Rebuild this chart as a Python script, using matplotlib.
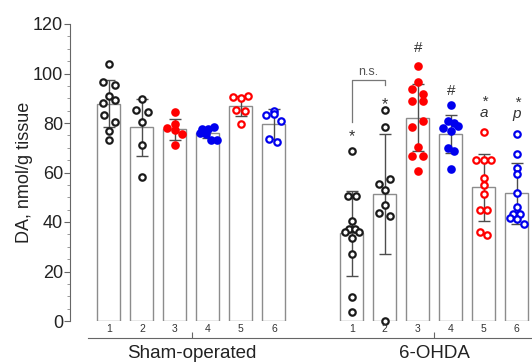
import matplotlib
matplotlib.use('Agg')
import matplotlib.pyplot as plt
import numpy as np

plt.rcParams['font.family'] = ['Liberation Sans', 'DejaVu Sans']

# bar labels inside each group
bar_labels = ['1', '2', '3', '4', '5', '6']
groups = ['Sham-operated', '6-OHDA']

# mean and SD for each bar
sham_mean = [87.7, 78.3, 77.4, 75.8, 86.9, 79.5]
sham_sd = [9.5, 11.5, 4.4, 1.8, 4.0, 6.0]
ohda_mean = [35.4, 51.3, 82.2, 75.6, 54.0, 51.6]
ohda_sd = [17.3, 24.1, 13.5, 7.8, 13.4, 12.3]

# individual animals
sham_points = [
    [103.8, 96.4, 95.4, 91.0, 89.3, 88.2, 83.2, 80.5, 76.8, 73.1],
    [89.7, 85.3, 84.3, 80.4, 71.2, 58.1],
    [84.3, 79.5, 78.1, 77.0, 75.5, 71.0],
    [78.5, 77.7, 77.4, 76.1, 75.4, 73.1, 73.1],
    [91.0, 90.6, 90.2, 85.3, 85.0, 79.6],
    [85.0, 83.6, 83.2, 80.9, 73.4, 72.2],
]
ohda_points = [
    [68.7, 50.5, 50.5, 40.5, 37.0, 37.0, 36.1, 36.1, 33.7, 27.0, 9.8, 3.5],
    [85.3, 78.5, 57.4, 55.4, 52.9, 46.9, 43.8, 42.6, 0.1],
    [103.0, 96.7, 93.6, 91.6, 88.9, 88.9, 80.9, 78.3, 70.2, 66.8, 66.8, 60.6],
    [87.3, 80.9, 80.2, 78.8, 77.8, 76.9, 69.8, 68.8, 61.3],
    [76.5, 65.1, 65.1, 65.1, 57.6, 54.9, 51.2, 44.8, 44.8, 36.1, 34.7],
    [75.6, 67.5, 61.7, 59.4, 51.8, 45.9, 43.2, 43.2, 41.7, 41.1, 39.1],
]

# horizontal scatter of the dots (in bar units)
sham_jitter = [
    [0, -0.19, 0.18, 0, 0.18, -0.19, -0.16, 0.18, 0, 0],
    [0, -0.17, 0.17, 0, 0, 0],
    [0, 0, -0.23, 0, 0.22, 0],
    [0.17, 0, -0.17, -0.25, -0.05, 0.1, 0.27],
    [0.22, -0.24, 0, -0.16, 0.12, 0],
    [0, 0, -0.24, 0.21, -0.14, 0.08],
]
ohda_jitter = [
    [0, -0.13, 0.14, 0, -0.1, 0.1, -0.22, 0.23, 0, 0, 0, 0],
    [0, 0, 0.16, -0.17, 0, 0, -0.17, 0.16, 0],
    [0, 0, -0.17, 0.17, -0.17, 0.17, 0.17, -0.17, 0, -0.17, 0.17, 0],
    [0, -0.1, 0.1, 0.23, -0.23, 0, -0.1, 0.1, 0],
    [0, -0.25, 0, 0.22, 0, 0, 0, -0.12, 0.1, -0.12, 0.1],
    [0, 0, 0, 0, 0, 0, -0.12, 0.1, -0.22, 0, 0.22],
]

# significance marks above 6-OHDA bars (letter under the star where present)
ohda_marks = ['*', '*', '#', '#', '*', '*']
ohda_letters = ['', '', '', '', 'a', 'p']
ohda_mark_y = [76, 89, 110.5, 93, 86.5, 86]

dot_colors = ['#1a1a1a', '#1a1a1a', '#ff0000', '#0000ee', '#ff0000', '#0000ee']
dot_filled = [False, False, True, True, False, False]

fig = plt.figure(figsize=(5.32, 3.63), dpi=100)
ax = fig.add_axes([70 / 532, 42 / 363, 462 / 532, 297 / 363])

sham_x = np.arange(1, 7)
ohda_x = sham_x + 7.36

for xs, means, sds, pts, jit in [(sham_x, sham_mean, sham_sd, sham_points, sham_jitter),
                                  (ohda_x, ohda_mean, ohda_sd, ohda_points, ohda_jitter)]:
    ax.bar(xs, means, width=0.7, color='white', edgecolor='#8c8c8c', linewidth=1, zorder=1)
    ax.errorbar(xs, means, yerr=sds, fmt='none', ecolor='#4d4d4d', elinewidth=1,
                capsize=4.5, capthick=1, zorder=2)
    for i, x in enumerate(xs):
        c = dot_colors[i]
        face = c if dot_filled[i] else 'white'
        ax.plot(x + np.array(jit[i]), pts[i], 'o', ms=4.6, mfc=face, mec=c,
                mew=1.6, ls='none', zorder=3, clip_on=False)
        ax.text(x, -3.3, bar_labels[i], ha='center', va='center', fontsize=7.5, color='#333333')

for i, x in enumerate(ohda_x):
    sym = ohda_marks[i]
    if ohda_letters[i]:
        # star and italic letter stacked as one text
        ax.text(x, ohda_mark_y[i], sym + '\n' + ohda_letters[i], ha='center', va='center',
                fontsize=11, style='italic', linespacing=0.75, color='#333333')
    elif sym == '*':
        # asterisk glyph sits high in the em box, so anchor lower
        ax.text(x, ohda_mark_y[i] - 1.5, '*', ha='center', va='center', fontsize=11.5,
                color='#333333')
    else:
        ax.text(x, ohda_mark_y[i], '#', ha='center', va='center', fontsize=11, color='#333333')

# n.s. bracket between 6-OHDA bar 1 and 2
ax.plot([ohda_x[0], ohda_x[0], ohda_x[1], ohda_x[1]], [80.5, 97.4, 97.4, 95.4],
        color='#777777', lw=0.9)
ax.text((ohda_x[0] + ohda_x[1]) / 2, 100.5, 'n.s.', ha='center', va='center',
        fontsize=9, color='#555555')

ax.set_ylim(0, 120)
ax.set_xlim(-0.18, 13.82)
ax.set_yticks(range(0, 121, 20))
ax.set_yticks(range(0, 121, 5), minor=True)
ax.tick_params(axis='y', which='major', length=4, width=0.8, color='#666666',
               labelsize=13, labelcolor='#222222', pad=1)
ax.tick_params(axis='y', which='minor', length=2, width=0.6, color='#888888')
ax.set_ylabel('DA, nmol/g tissue', fontsize=13, color='#222222', labelpad=0)

ax.spines['top'].set_visible(False)
ax.spines['right'].set_visible(False)
ax.spines['left'].set_color('#666666')
ax.spines['left'].set_linewidth(0.8)
ax.spines['bottom'].set_position(('outward', 12.2))
ax.spines['bottom'].set_bounds(0.36, 13.82)
ax.spines['bottom'].set_color('#666666')
ax.spines['bottom'].set_linewidth(0.8)
ax.set_xticks([3.52, 10.86])
ax.set_xticklabels(groups)
ax.tick_params(axis='x', direction='in', length=4, width=0.8, color='#666666',
               labelsize=13.5, labelcolor='#222222', pad=5)

fig.savefig('out.png', dpi=100)
